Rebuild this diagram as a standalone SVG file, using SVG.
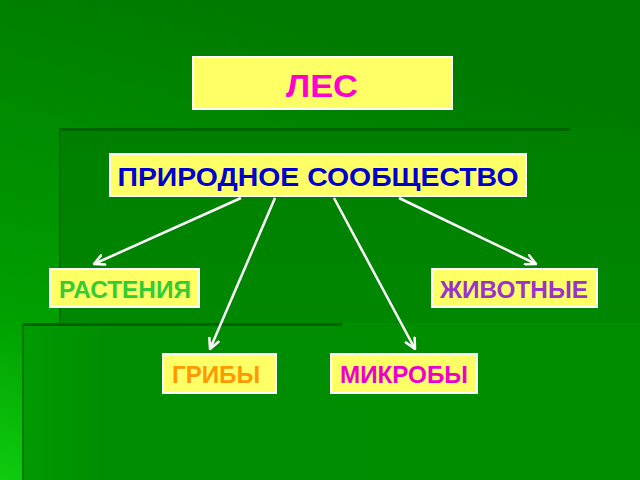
<svg xmlns="http://www.w3.org/2000/svg" width="640" height="480" viewBox="0 0 640 480">
  <defs>
    <linearGradient id="bg" x1="0" y1="1" x2="0.35" y2="0">
      <stop offset="0" stop-color="#0fcc0f"/>
      <stop offset="0.3" stop-color="#00a000"/>
      <stop offset="1" stop-color="#007a00"/>
    </linearGradient>
    <linearGradient id="p1" x1="0" y1="0" x2="0" y2="1">
      <stop offset="0" stop-color="#007f00"/>
      <stop offset="1" stop-color="#008e00"/>
    </linearGradient>
    <linearGradient id="p2" x1="0" y1="0" x2="1" y2="0">
      <stop offset="0" stop-color="#009a00"/>
      <stop offset="0.15" stop-color="#008c00"/>
      <stop offset="1" stop-color="#008e00"/>
    </linearGradient>
    <marker id="arr" viewBox="0 0 10 10" refX="9" refY="5" markerWidth="5" markerHeight="5" orient="auto" markerUnits="strokeWidth">
      <path d="M1,1 L9,5 L1,9" fill="none" stroke="#ffffff" stroke-width="2" stroke-linecap="round" stroke-linejoin="round"/>
    </marker>
  </defs>
  <style>
    .box { fill: #ffff66; stroke: #ffffff; stroke-width: 2; }
    .t { font-family: "Liberation Sans", Arial, sans-serif; font-weight: bold; text-anchor: middle; }
    .conn { stroke: #ffffff; stroke-width: 2.5; fill: none; marker-end: url(#arr); }
  </style>

  <g id="background">
    <rect x="0" y="0" width="640" height="480" fill="url(#bg)"/>
    <rect x="59" y="128" width="581" height="352" fill="url(#p1)"/>
    <rect x="60" y="128" width="510" height="3" fill="#006200"/>
    <rect x="59" y="128" width="2" height="195" fill="#007000"/>
    <rect x="22" y="323" width="618" height="157" fill="url(#p2)"/>
    <rect x="22" y="323" width="320" height="3" fill="#006200"/>
    <rect x="22" y="323" width="2" height="157" fill="#007a00"/>
  </g>

  <g id="connectors">
    <line class="conn" x1="241" y1="198" x2="94" y2="264"/>
    <line class="conn" x1="275" y1="198" x2="210" y2="349"/>
    <line class="conn" x1="334" y1="198" x2="415" y2="349"/>
    <line class="conn" x1="399" y1="198" x2="536" y2="264"/>
  </g>

  <g id="node-les">
    <rect class="box" x="193" y="57" width="259" height="52"/>
    <text class="t" x="322" y="97" font-size="31" fill="#ff00cc" textLength="72" lengthAdjust="spacingAndGlyphs">ЛЕС</text>
  </g>

  <g id="node-soobshchestvo">
    <rect class="box" x="110" y="154" width="416" height="42"/>
    <text class="t" x="318" y="186" font-size="26" fill="#0000cc" textLength="401" lengthAdjust="spacingAndGlyphs">ПРИРОДНОЕ СООБЩЕСТВО</text>
  </g>

  <g id="node-rasteniya">
    <rect class="box" x="50" y="269" width="149" height="38"/>
    <text class="t" x="125" y="298" font-size="23" fill="#33cc33" textLength="132" lengthAdjust="spacingAndGlyphs">РАСТЕНИЯ</text>
  </g>

  <g id="node-zhivotnye">
    <rect class="box" x="432" y="269" width="165" height="38"/>
    <text class="t" x="514" y="298" font-size="24" fill="#9933cc" textLength="148" lengthAdjust="spacingAndGlyphs">ЖИВОТНЫЕ</text>
  </g>

  <g id="node-griby">
    <rect class="box" x="163" y="354" width="113" height="39"/>
    <text class="t" x="216" y="383" font-size="24" fill="#ff9900" textLength="88" lengthAdjust="spacingAndGlyphs">ГРИБЫ</text>
  </g>

  <g id="node-mikroby">
    <rect class="box" x="331" y="354" width="146" height="39"/>
    <text class="t" x="404" y="383" font-size="24" fill="#ee00cc" textLength="128" lengthAdjust="spacingAndGlyphs">МИКРОБЫ</text>
  </g>
</svg>
